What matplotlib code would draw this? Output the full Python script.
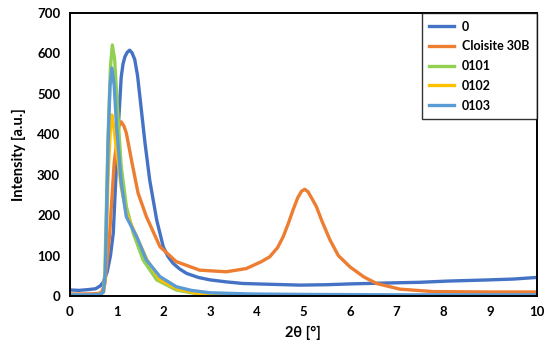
import matplotlib.pyplot as plt

plt.rcParams['font.family'] = ['Lato', 'DejaVu Sans']

# Data (2theta in degrees, intensity in a.u.)
x_0 = [0, 0.2, 0.4, 0.55, 0.65, 0.72, 0.8, 0.87, 0.93, 0.98, 1.03, 1.1, 1.14, 1.18, 1.23, 1.28, 1.33,
       1.39, 1.45, 1.5, 1.61, 1.71, 1.86, 2.0, 2.1, 2.21, 2.35, 2.5, 2.75, 3.0, 3.35, 3.71, 4.3, 4.93,
       5.5, 6.0, 6.7, 7.5, 8.1, 9.0, 9.5, 10]
y_0 = [15, 14, 16, 18, 25, 35, 60, 100, 156, 280, 403, 542, 575, 592, 603, 608, 602,
       585, 545, 493, 378, 287, 188, 122, 98, 81, 67, 56, 46, 40, 35, 31, 29, 27,
       28, 30, 32, 34, 37, 40, 42, 46]

x_c30b = [0, 0.3, 0.6, 0.68, 0.75, 0.85, 0.95, 1.05, 1.1, 1.16, 1.21, 1.32, 1.46, 1.64, 1.93, 2.28,
          2.78, 3.35, 3.78, 4.1, 4.28, 4.45, 4.57, 4.68, 4.78, 4.88, 4.96, 5.03, 5.1, 5.18, 5.28,
          5.4, 5.57, 5.75, 6.0, 6.3, 6.57, 7.07, 7.78, 9.0, 10]
y_c30b = [5, 5, 6, 10, 30, 150, 330, 420, 431, 420, 403, 336, 255, 196, 122, 85,
          64, 60, 68, 85, 97, 120, 147, 180, 213, 243, 259, 264, 258, 242, 221,
          185, 139, 100, 72, 47, 31, 17, 11, 10, 10]

x_0101 = [0, 0.4, 0.65, 0.72, 0.75, 0.82, 0.87, 0.91, 0.96, 1.03, 1.1, 1.21, 1.36, 1.57, 1.86,
          2.28, 2.7, 3.0, 4.0, 6.0, 8.0, 10]
y_0101 = [3, 3, 4, 10, 60, 402, 567, 621, 584, 443, 320, 221, 155, 89, 40,
          15, 6, 2, 0, 0, 0, 0]

x_0102 = [0, 0.4, 0.65, 0.72, 0.76, 0.82, 0.87, 0.9, 0.95, 1.0, 1.1, 1.21, 1.43, 1.65, 1.93,
          2.3, 2.67, 3.0, 4.0, 6.0, 8.0, 10]
y_0102 = [3, 3, 4, 10, 60, 300, 420, 448, 410, 361, 270, 204, 147, 90, 40,
          18, 8, 3, 0, 0, 0, 0]

x_0103 = [0, 0.4, 0.65, 0.72, 0.76, 0.82, 0.86, 0.9, 0.95, 1.0, 1.1, 1.21, 1.43, 1.64, 1.93,
          2.28, 2.6, 3.0, 3.9, 5.0, 7.0, 10]
y_0103 = [3, 3, 4, 10, 60, 380, 520, 564, 520, 420, 280, 196, 147, 89, 48,
          23, 14, 8, 5, 4, 3, 3]

series = [
    ('0', x_0, y_0, '#4472C4'),
    ('Cloisite 30B', x_c30b, y_c30b, '#ED7D31'),
    ('0101', x_0101, y_0101, '#92D050'),
    ('0102', x_0102, y_0102, '#FFC000'),
    ('0103', x_0103, y_0103, '#5B9BD5'),
]

fig = plt.figure(figsize=(5.5, 3.52), dpi=100)
ax = fig.add_axes([0.127, 0.159, 0.849, 0.804])

for label, xs, ys, color in series:
    ax.plot(xs, ys, color=color, linewidth=2.4, label=label, solid_joinstyle='round')

ax.set_xlim(0, 10)
ax.set_ylim(0, 700)
ax.set_xticks(range(0, 11))
ax.set_yticks(range(0, 701, 100))
ax.tick_params(length=0, labelsize=9.5, pad=7)
for lbl in ax.get_xticklabels() + ax.get_yticklabels():
    lbl.set_fontweight('bold')

for sp in ax.spines.values():
    sp.set_color('black')
    sp.set_linewidth(1.4)

ax.set_xlabel('2θ [°]', fontsize=10.5, fontweight='bold', labelpad=6)
ax.set_ylabel('Intensity [a.u.]', fontsize=10.5, fontweight='bold', labelpad=8)

leg = ax.legend(loc='upper right', borderaxespad=0, fancybox=False, frameon=True,
                prop={'weight': 'bold', 'size': 9}, handlelength=2.0, handletextpad=0.6,
                labelspacing=0.62, borderpad=0.6)
leg.get_frame().set_edgecolor('black')
leg.get_frame().set_linewidth(1.0)

plt.savefig('out.png', dpi=100)
